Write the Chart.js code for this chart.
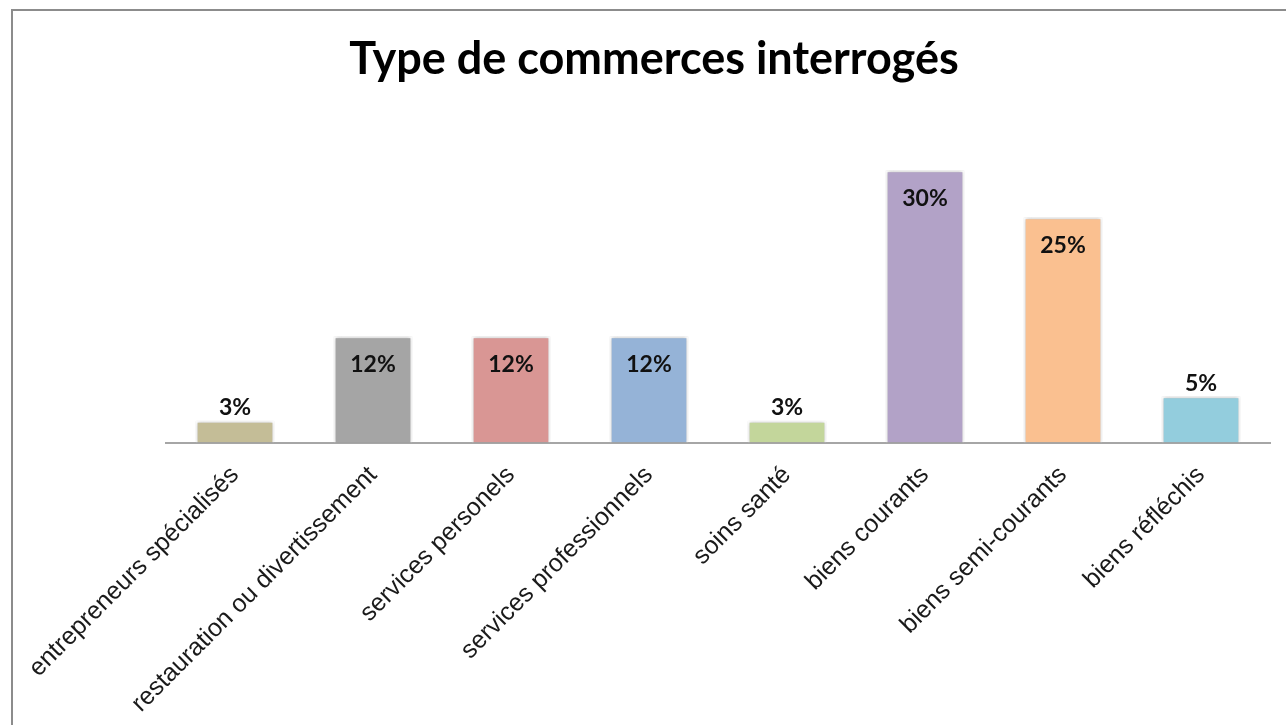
<!DOCTYPE html>
<html lang="fr">
<head>
<meta charset="utf-8">
<title>Type de commerces interrogés</title>
<script src="https://cdn.jsdelivr.net/npm/chart.js@4.4.1/dist/chart.umd.min.js"></script>
<style>
  html, body { margin: 0; padding: 0; background: #fff; overflow: hidden; }
  #cadre { position: absolute; left: 11px; top: 9px; width: 1300px; height: 740px; border: 2px solid #8c8c8c; box-sizing: border-box; }
  #zone { position: absolute; left: 0; top: 0; width: 1286px; height: 725px; }
</style>
</head>
<body>
<div id="cadre"></div>
<div id="zone"><canvas id="graphique"></canvas></div>
<script>
const titre = "Type de commerces interrogés";
const categories = [
  "entrepreneurs spécialisés",
  "restauration ou divertissement",
  "services personels",
  "services professionnels",
  "soins santé",
  "biens courants",
  "biens semi-courants",
  "biens réfléchis"
];
// hauteurs (en %)
const valeurs = [2.4, 11.7, 11.7, 11.7, 2.4, 30, 24.8, 5.1];
// etiquettes affichees sur les barres
const etiquettes = ["3%", "12%", "12%", "12%", "3%", "30%", "25%", "5%"];
const couleurs = ["#c4bd97", "#a5a5a5", "#d99694", "#95b3d7", "#c3d69b", "#b2a2c7", "#fac090", "#93cddd"];

// titre dessine a la main (centre un peu decale comme sur l'original)
const titrePlugin = {
  id: "titrePlugin",
  afterDraw(chart) {
    const ctx = chart.ctx;
    ctx.save();
    ctx.font = "bold 45px Lato, 'Open Sans', sans-serif";
    ctx.fillStyle = "#000";
    ctx.textAlign = "center";
    ctx.textBaseline = "middle";
    ctx.fillText(titre, 654, 59);
    ctx.restore();
  }
};

// ombre legere autour des barres
const ombreBarres = {
  id: "ombreBarres",
  beforeDatasetsDraw(chart) {
    const ctx = chart.ctx;
    ctx.save();
    ctx.shadowColor = "rgba(0,0,0,0.28)";
    ctx.shadowBlur = 4;
  },
  afterDatasetsDraw(chart) {
    chart.ctx.restore();
  }
};

// valeurs au dessus / dans les barres
const etiquettesBarres = {
  id: "etiquettesBarres",
  afterDatasetsDraw(chart) {
    const ctx = chart.ctx;
    const meta = chart.getDatasetMeta(0);
    ctx.save();
    ctx.font = "bold 23px Lato, 'Open Sans', sans-serif";
    ctx.fillStyle = "#111";
    ctx.textAlign = "center";
    ctx.textBaseline = "middle";
    meta.data.forEach((barre, i) => {
      const dedans = valeurs[i] > 8;
      const y = dedans ? barre.y + 28 : barre.y - 13;
      ctx.fillText(etiquettes[i], barre.x, y);
    });
    ctx.restore();
  }
};

const ctx = document.getElementById("graphique").getContext("2d");

new Chart(ctx, {
  type: "bar",
  data: {
    labels: categories,
    datasets: [{
      data: valeurs,
      backgroundColor: couleurs,
      borderColor: "#ffffff",
      borderWidth: 2,
      barPercentage: 0.57,
      categoryPercentage: 1.0
    }]
  },
  options: {
    responsive: true,
    maintainAspectRatio: false,
    animation: false,
    layout: {
      padding: { top: 152, right: 16, bottom: -8, left: 166 }
    },
    plugins: {
      legend: { display: false },
      tooltip: { enabled: false },
      title: { display: false }
    },
    scales: {
      y: {
        display: false,
        min: 0,
        max: 32
      },
      x: {
        grid: { display: false, drawTicks: false },
        border: { display: true, color: "#a6a6a6", width: 2 },
        ticks: {
          autoSkip: false,
          minRotation: 45,
          maxRotation: 45,
          padding: 18,
          color: "#1a1a1a",
          font: { family: "'Liberation Sans', Arial, sans-serif", size: 25 }
        }
      }
    }
  },
  plugins: [ombreBarres, etiquettesBarres, titrePlugin]
});
</script>
</body>
</html>
